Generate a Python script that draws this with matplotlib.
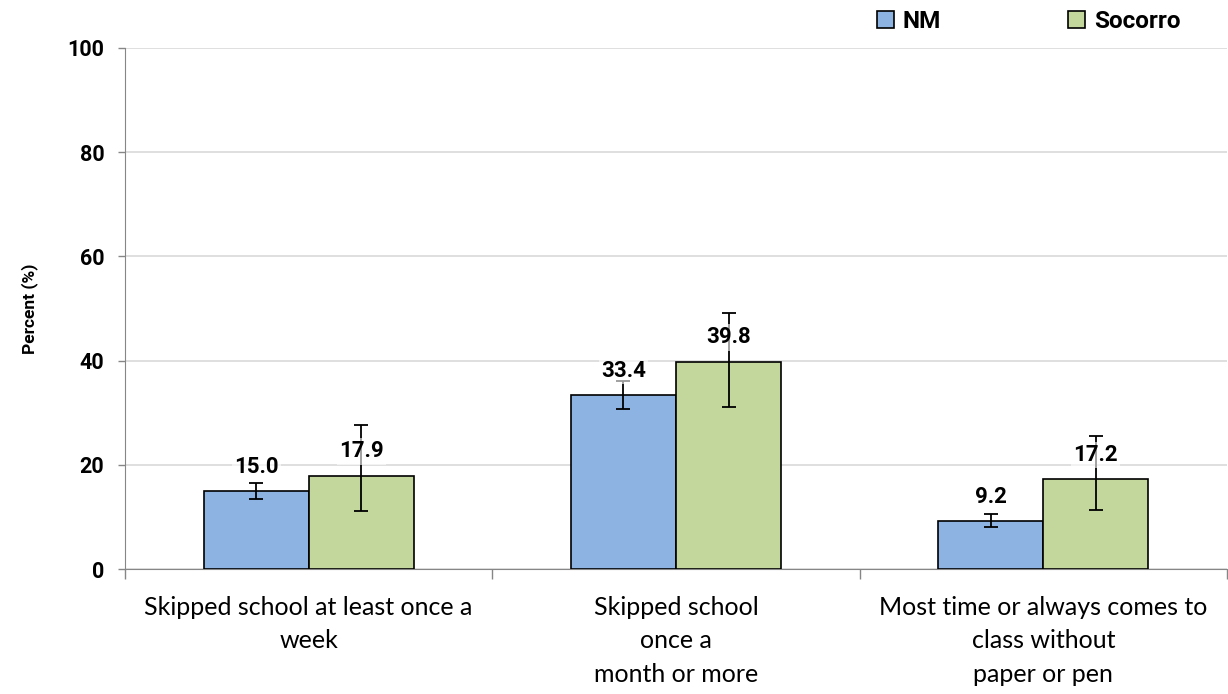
import matplotlib
matplotlib.use("Agg")
import matplotlib.pyplot as plt
import numpy as np

plt.rcParams['font.family'] = ['Roboto', 'DejaVu Sans']
CAT_FONT = ['Lato', 'DejaVu Sans']

categories = ["Skipped school at least once a\nweek",
              "Skipped school\nonce a\nmonth or more",
              "Most time or always comes to\nclass without\npaper or pen"]
series_names = ["NM", "Socorro"]
nm_values = [15.0, 33.4, 9.2]
soc_values = [17.9, 39.8, 17.2]
nm_low = [13.5, 30.7, 8.0]
nm_high = [16.6, 36.1, 10.5]
soc_low = [11.1, 31.1, 11.3]
soc_high = [27.6, 49.2, 25.6]
yticks = [0, 20, 40, 60, 80, 100]

colors = ["#8DB3E2", "#C3D69B"]

fig = plt.figure(figsize=(12.28, 6.94), dpi=100)
ax = fig.add_axes([125/1228, 1 - 569/694, (1227 - 125)/1228, (569 - 48)/694])

x = np.arange(len(categories))
w = 0.286
vals = [nm_values, soc_values]
lows = [nm_low, soc_low]
highs = [nm_high, soc_high]
for i in range(2):
    pos = x + (i - 0.5) * w
    v = np.array(vals[i])
    ax.bar(pos, v, width=w, color=colors[i], edgecolor="black", linewidth=1.2,
           label=series_names[i], zorder=3)
    yerr = [v - np.array(lows[i]), np.array(highs[i]) - v]
    ax.errorbar(pos, v, yerr=yerr, fmt="none", ecolor="black", elinewidth=1.3,
                capsize=5, capthick=1.3, zorder=4)
    for p, val in zip(pos, v):
        ax.annotate(f"{val:.1f}", (p, val), xytext=(0, 17.5), textcoords="offset points",
                    ha="center", va="center", fontsize=16, fontweight="bold", zorder=5,
                    bbox=dict(boxstyle="square,pad=0.1", fc="white", ec="none", alpha=0.6))

ax.set_xlim(-0.5, 2.5)
ax.set_ylim(0, 100)
ax.set_yticks(yticks)
ax.set_yticklabels([str(t) for t in yticks], fontsize=15.5, fontweight="bold")
ax.yaxis.grid(True, color="#D9D9D9", linewidth=1.2, zorder=0)
ax.set_axisbelow(True)

ax.set_xticks([-0.5, 0.5, 1.5, 2.5])
ax.set_xticklabels([])
ax.tick_params(axis="x", length=7, color="#868686", width=1)
ax.tick_params(axis="y", length=5, color="#868686", width=1, pad=10)
for c, lab in zip(x, categories):
    ax.text(c, -5.1, lab, ha="center", va="top", fontsize=18, linespacing=1.56,
            family=CAT_FONT, transform=ax.transData)

for s in ["top", "right"]:
    ax.spines[s].set_visible(False)
ax.spines["left"].set_color("#868686")
ax.spines["bottom"].set_color("#868686")

ax.set_ylabel("Percent (%)", fontsize=12.5, fontweight="bold")
ax.yaxis.set_label_coords((38 - 125) / 1102, 0.5)

leg = fig.legend(loc="upper left", bbox_to_anchor=(855/1228, 1.017), ncol=2,
                 frameon=False, prop={"size": 17.5, "weight": "bold"},
                 handlelength=0.7, handleheight=0.7, handletextpad=0.35, columnspacing=5.25)

fig.savefig("out.png", dpi=100)
